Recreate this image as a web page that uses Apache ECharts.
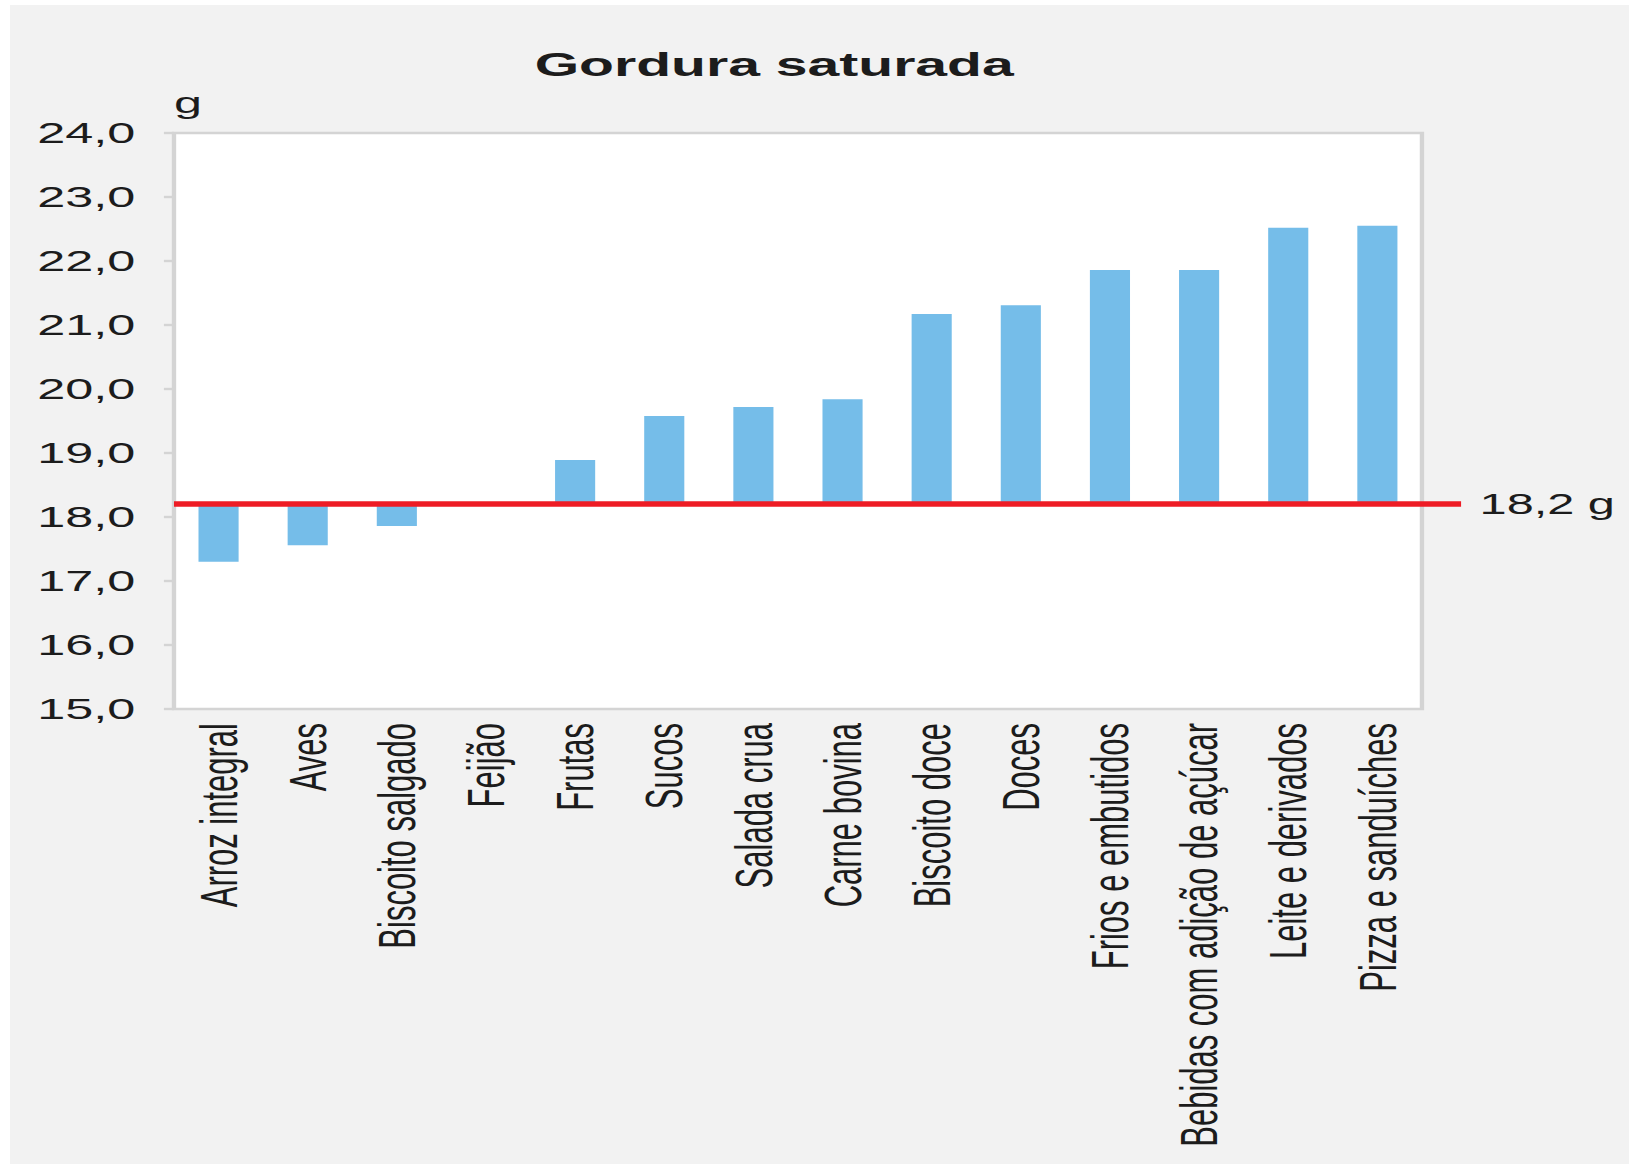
<!DOCTYPE html>
<html>
<head>
<meta charset="utf-8">
<script src="https://cdn.jsdelivr.net/npm/echarts@6/dist/echarts.min.js"></script>
<style>
  html, body { margin: 0; padding: 0; background: #ffffff; overflow: hidden; width: 1629px; height: 1164px; }
  #bg { position: absolute; left: 10px; top: 5px; right: 0; bottom: 0; background: #f2f2f2; }
  #chart { position: absolute; left: 0; top: 0; width: 970px; height: 1164px; transform: scaleX(1.6794); transform-origin: 0 0; }
</style>
</head>
<body>
<div id="bg"></div>
<div id="chart"></div>
<script>
// ---- data ----
const titleText = 'Gordura saturada';
const unitText = 'g';
const categories = ['Arroz integral', 'Aves', 'Biscoito salgado', 'Feijão', 'Frutas', 'Sucos', 'Salada crua', 'Carne bovina', 'Biscoito doce', 'Doces', 'Frios e embutidos', 'Bebidas com adição de açúcar', 'Leite e derivados', 'Pizza e sanduíches'];
const values = [17.3, 17.56, 17.86, 18.2, 18.89, 19.58, 19.72, 19.84, 21.17, 21.31, 21.86, 21.86, 22.52, 22.55];
const referenceValue = 18.2;
const referenceLabel = '18,2 g';
const yMin = 15, yMax = 24, yStep = 1;

// bars hang from / rise above the reference value
const baseValues = values.map(v => Math.min(v, referenceValue));
const deltaValues = values.map(v => Math.abs(v - referenceValue));

const FONT = 'Liberation Sans, Arial, sans-serif';
const TXT = '#1c1c1c';

const chart = echarts.init(document.getElementById('chart'), null, { renderer: 'svg' });
chart.setOption({
  animation: false,
  title: {
    text: titleText,
    left: 461,
    top: 47,
    padding: 0,
    textAlign: 'center',
    textStyle: { fontFamily: FONT, fontSize: 34, fontWeight: 'bold', color: TXT }
  },
  grid: {
    left: 103.6, top: 133, width: 743.1, height: 576,
    show: true, backgroundColor: '#ffffff', borderColor: '#d4d4d4', borderWidth: 2.6
  },
  xAxis: {
    type: 'category',
    data: categories,
    axisLine: { show: false },
    axisTick: { show: false },
    axisLabel: { rotate: 90, interval: 0, margin: 14, fontFamily: FONT, fontSize: 31, color: TXT }
  },
  yAxis: {
    type: 'value',
    min: yMin, max: yMax, interval: yStep,
    name: unitText,
    nameLocation: 'end',
    nameGap: 16,
    nameTextStyle: { align: 'left', verticalAlign: 'bottom', fontFamily: FONT, fontSize: 30, color: TXT },
    axisLine: { show: false },
    splitLine: { show: false },
    axisTick: { show: true, length: 6, lineStyle: { color: '#d4d4d4', width: 2.4 } },
    axisLabel: {
      margin: 23, fontFamily: FONT, fontSize: 30, color: TXT,
      formatter: v => v.toFixed(1).replace('.', ',')
    }
  },
  series: [
    {
      type: 'bar', stack: 'g', data: baseValues, barWidth: '45%',
      itemStyle: { color: 'rgba(0,0,0,0)' }, silent: true
    },
    {
      type: 'bar', stack: 'g', data: deltaValues, barWidth: '45%',
      itemStyle: { color: '#75bde9' },
      markLine: {
        silent: true,
        symbol: 'none',
        z: 10,
        lineStyle: { color: '#ee1c25', width: 5.5, type: 'solid' },
        label: {
          show: true, position: 'end', distance: 11,
          formatter: referenceLabel,
          fontFamily: FONT, fontSize: 29, color: TXT
        },
        data: [[
          { coord: [0, referenceValue], x: 103.6 },
          { coord: [categories.length - 1, referenceValue], x: 870 }
        ]]
      }
    }
  ]
});
</script>
</body>
</html>
